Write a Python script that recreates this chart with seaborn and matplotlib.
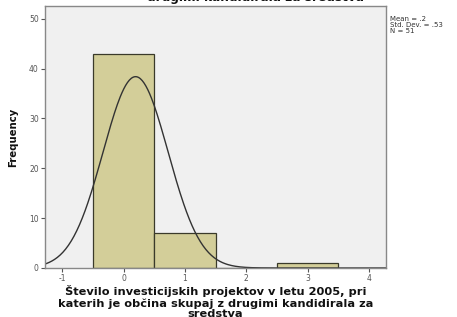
import numpy as np
import pandas as pd
import matplotlib
matplotlib.use("Agg")
import matplotlib.pyplot as plt
import seaborn as sns

# Data
values = [0, 1, 2, 3]
counts = [43, 7, 0, 1]
bin_edges = [-0.5, 0.5, 1.5, 2.5, 3.5]
x_ticks = [-1, 0, 1, 2, 3, 4]
y_ticks = [0, 10, 20, 30, 40, 50]
stats_text = "Mean = .2\nStd. Dev. = .53\nN = 51"
title_text = ("Število investicijskih projektov v letu 2005, pri\n"
              "katerih je občina skupaj z\n"
              "drugimi kandidirala za sredstva")
xlabel_text = ("Število investicijskih projektov v letu 2005, pri\n"
               "katerih je občina skupaj z drugimi kandidirala za\n"
               "sredstva")

df = pd.DataFrame({"value": values, "count": counts})

sns.set_style("white")
plt.rcParams['font.family'] = ['DejaVu Sans']
plt.rcParams['axes.unicode_minus'] = False

fig = plt.figure(figsize=(4.57, 3.17), dpi=100)
ax = fig.add_axes([0.0985, 0.1546, 0.7465, 0.827])
ax.set_facecolor("#F0F0F0")

sns.histplot(data=df, x="value", weights="count", bins=bin_edges, ax=ax,
             color="#D3CE99", edgecolor="#3a3a2a", linewidth=0.9, alpha=1.0)

# Fitted normal curve from the data
n = sum(counts)
mean = np.sum(np.array(values) * np.array(counts)) / n
sd = 0.53
xs = np.linspace(-1.5, 4.5, 400)
ys = n * 1.0 * np.exp(-0.5 * ((xs - mean) / sd) ** 2) / (sd * np.sqrt(2 * np.pi))
sns.lineplot(x=xs, y=ys, ax=ax, color="#333333", linewidth=1.0)

ax.set_xlim(-1.28, 4.28)
ax.set_ylim(0, 52.6)
ax.set_xticks(x_ticks)
ax.set_yticks(y_ticks)
ax.tick_params(axis="both", direction="out", length=3, width=0.8,
               colors="#555555", labelsize=5.5, pad=1.5, bottom=True, left=True)
for s in ax.spines.values():
    s.set_color("#888888")
    s.set_linewidth(1.0)

ax.set_xlabel(xlabel_text, fontsize=8.2, fontweight="bold", color="#111111",
              linespacing=1.08, labelpad=1.5)
ax.set_ylabel("Frequency", fontsize=7.3, fontweight="bold", color="#111111", labelpad=8)

fig.text(0.56, 0.987, title_text, ha="center", va="bottom", fontsize=8.7,
         fontweight="bold", color="#111111", linespacing=1.05)
fig.text(0.853, 0.95, stats_text, ha="left", va="top", fontsize=5,
         color="#333333", linespacing=1.0)

fig.savefig("out.png", dpi=100)
